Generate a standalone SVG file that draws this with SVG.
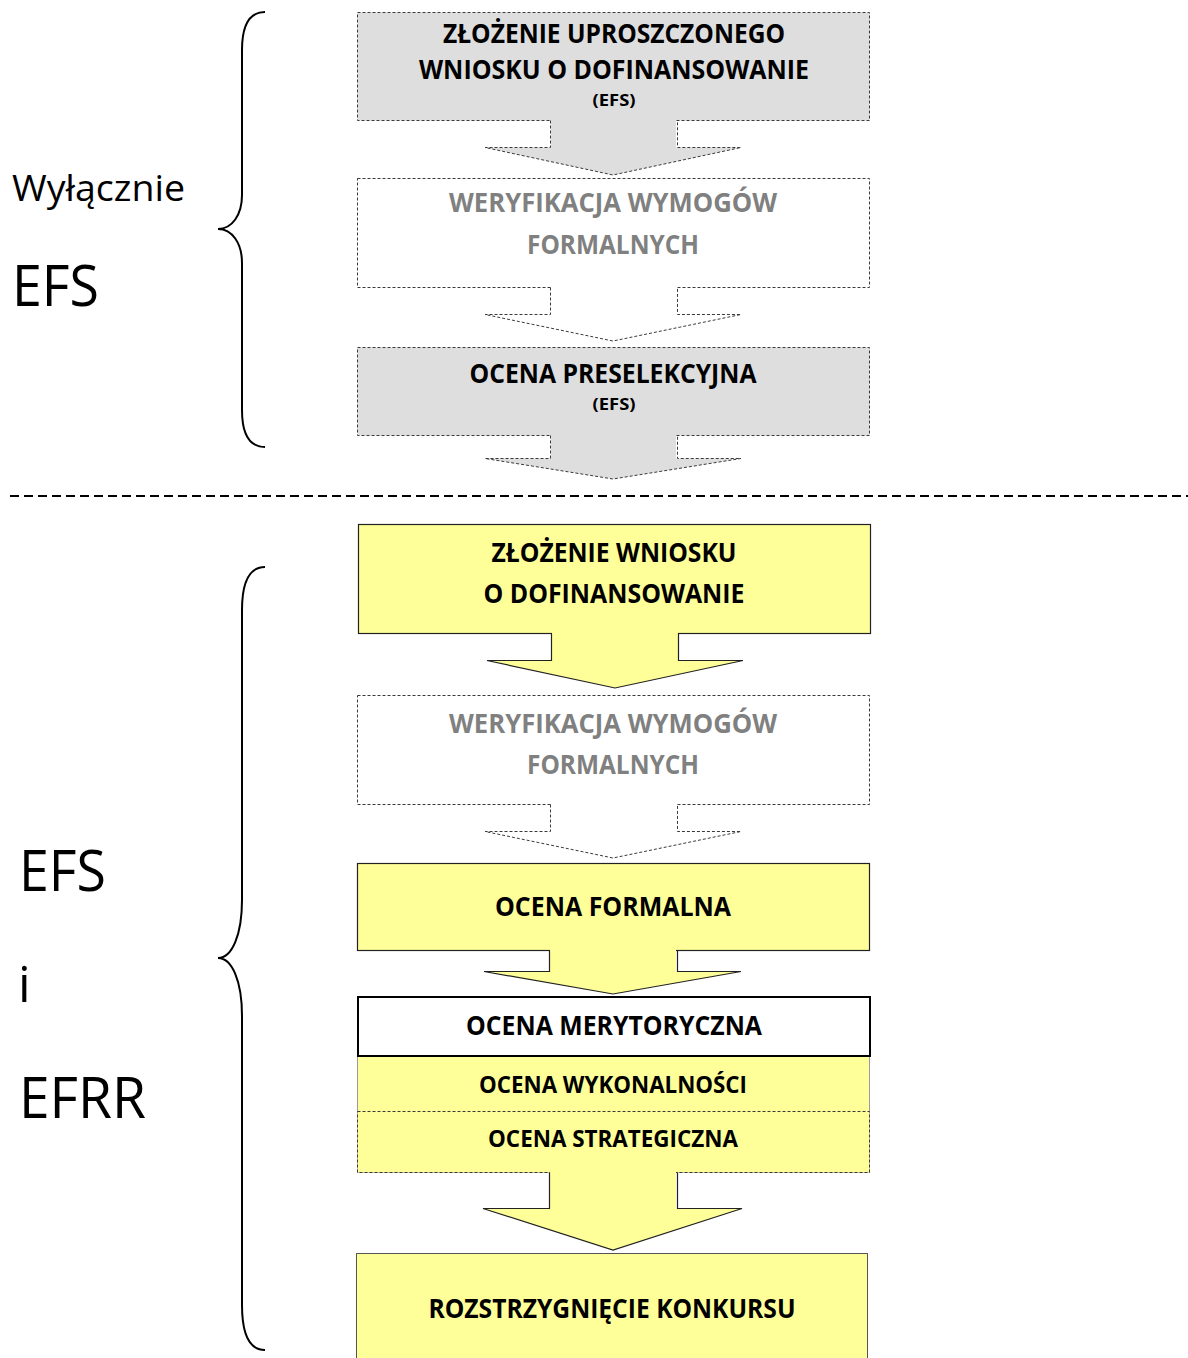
<svg xmlns="http://www.w3.org/2000/svg" width="1188" height="1358" viewBox="0 0 1188 1358">
<style>
.t{font-family:"Open Sans","Lato","Liberation Sans",sans-serif;font-weight:bold;font-size:26px;fill:#000;text-anchor:middle}
.s{font-size:16px}
.g{fill:#808080}
.m{font-size:23px}
.lbl{font-family:"Open Sans","Liberation Sans",sans-serif;fill:#000}
.dash{stroke:#3a3a3a;stroke-width:1;stroke-dasharray:3 2}
.solid{stroke:#222;stroke-width:1.2}
.gray{fill:#dedede}
.wh{fill:#fff}
.ye{fill:#ffff99}
.brace{fill:none;stroke:#000;stroke-width:2}
</style>

<g id="braces">
<path class="brace" d="M265,12 C250,12 242,24 242,50 L242,195 C242,215 232,229 218,229 C232,229 242,243 242,263 L242,410 C242,436 250,447 265,447"/>
<path class="brace" d="M265,567 C250,567 242,580 242,610 L242,900 C242,935 232,958 218,958 C232,958 242,981 242,1016 L242,1305 C242,1335 250,1350 265,1350"/>
</g>

<g id="labels">
<text class="lbl" x="12" y="201" font-size="37" textLength="173" lengthAdjust="spacingAndGlyphs">Wyłącznie</text>
<text class="lbl" x="12" y="306" font-size="56" textLength="87" lengthAdjust="spacingAndGlyphs">EFS</text>
<text class="lbl" x="19" y="891" font-size="56" textLength="87" lengthAdjust="spacingAndGlyphs">EFS</text>
<text class="lbl" x="18" y="1002" font-size="50">i</text>
<text class="lbl" x="19" y="1118" font-size="56" textLength="127" lengthAdjust="spacingAndGlyphs">EFRR</text>
</g>

<line id="separator" x1="10" y1="496" x2="1188" y2="496" stroke="#000" stroke-width="2" stroke-dasharray="9 5"/>

<g id="node-zlozenie-uproszczonego">
<rect class="gray dash" x="357.5" y="12.5" width="512" height="108"/>
<text class="t" x="614" y="43" textLength="342" lengthAdjust="spacingAndGlyphs">ZŁOŻENIE UPROSZCZONEGO</text>
<text class="t" x="614" y="79" textLength="390" lengthAdjust="spacingAndGlyphs">WNIOSKU O DOFINANSOWANIE</text>
<text class="t s" x="614" y="106" textLength="43" lengthAdjust="spacingAndGlyphs">(EFS)</text>
</g>

<g id="node-weryfikacja-1">
<rect class="wh dash" x="357.5" y="178.5" width="512" height="109"/>
<text class="t g" x="613" y="212" textLength="328" lengthAdjust="spacingAndGlyphs">WERYFIKACJA WYMOGÓW</text>
<text class="t g" x="613" y="254" textLength="172" lengthAdjust="spacingAndGlyphs">FORMALNYCH</text>
</g>

<g id="node-preselekcja">
<rect class="gray dash" x="357.5" y="347.5" width="512" height="88"/>
<text class="t" x="613" y="383" textLength="287" lengthAdjust="spacingAndGlyphs">OCENA PRESELEKCYJNA</text>
<text class="t s" x="614" y="410" textLength="43" lengthAdjust="spacingAndGlyphs">(EFS)</text>
</g>

<g id="node-zlozenie-wniosku">
<rect class="ye solid" x="358.5" y="524.5" width="512" height="109"/>
<text class="t" x="614" y="562" textLength="245" lengthAdjust="spacingAndGlyphs">ZŁOŻENIE WNIOSKU</text>
<text class="t" x="614" y="603" textLength="261" lengthAdjust="spacingAndGlyphs">O DOFINANSOWANIE</text>
</g>

<g id="node-weryfikacja-2">
<rect class="wh dash" x="357.5" y="695.5" width="512" height="109"/>
<text class="t g" x="613" y="733" textLength="328" lengthAdjust="spacingAndGlyphs">WERYFIKACJA WYMOGÓW</text>
<text class="t g" x="613" y="774" textLength="172" lengthAdjust="spacingAndGlyphs">FORMALNYCH</text>
</g>

<g id="node-ocena-formalna">
<rect class="ye solid" x="357.5" y="863.5" width="512" height="87"/>
<text class="t" x="613" y="916" textLength="236" lengthAdjust="spacingAndGlyphs">OCENA FORMALNA</text>
</g>

<g id="node-ocena-merytoryczna">
<rect class="ye" x="357.5" y="1056.5" width="512" height="116" stroke="#9a9a9a" stroke-width="1"/>
<rect fill="#fff" stroke="#000" stroke-width="2" x="358" y="997" width="512" height="59"/>
<text class="t" x="614" y="1035" textLength="296" lengthAdjust="spacingAndGlyphs">OCENA MERYTORYCZNA</text>
<text class="t m" x="613" y="1093" textLength="268" lengthAdjust="spacingAndGlyphs">OCENA WYKONALNOŚCI</text>
<rect class="ye dash" x="357.5" y="1111.5" width="512" height="61"/>
<text class="t m" x="613" y="1147" textLength="250" lengthAdjust="spacingAndGlyphs">OCENA STRATEGICZNA</text>
</g>

<g id="node-rozstrzygniecie">
<rect class="ye" x="356.5" y="1253.5" width="511" height="120" stroke="#555" stroke-width="1"/>
<text class="t" x="612" y="1318" textLength="367" lengthAdjust="spacingAndGlyphs">ROZSTRZYGNIĘCIE KONKURSU</text>
</g>

<g id="connectors">
<polygon class="gray" points="551,119 676,119 676,147.5 741,147.5 613,175 485,147.5 551,147.5"/>
<polyline class="dash" fill="none" points="550.5,120.5 550.5,147.5 485,147.5 613,175 741,147.5 677.5,147.5 677.5,120.5"/>

<polygon class="wh" points="551,286 676,286 676,314.5 741,314.5 613,341 485,314.5 551,314.5"/>
<polyline class="dash" fill="none" points="550.5,287.5 550.5,314.5 485,314.5 613,341 741,314.5 677.5,314.5 677.5,287.5"/>

<polygon class="gray" points="551,434 676,434 676,458.5 741,458.5 613,479 485,458.5 551,458.5"/>
<polyline class="dash" fill="none" points="550.5,435.5 550.5,458.5 485,458.5 613,479 741,458.5 677.5,458.5 677.5,435.5"/>

<polygon class="ye" points="552,632 678,632 678,660.5 743,660.5 615,688 487,660.5 552,660.5"/>
<polyline class="solid" fill="none" points="551.5,633.5 551.5,660.5 487,660.5 615,688 743,660.5 678.5,660.5 678.5,633.5"/>

<polygon class="wh" points="551,803 676,803 676,831.5 741,831.5 613,858 485,831.5 551,831.5"/>
<polyline class="dash" fill="none" points="550.5,804.5 550.5,831.5 485,831.5 613,858 741,831.5 677.5,831.5 677.5,804.5"/>

<polygon class="ye" points="550,949 676,949 676,971.5 741,971.5 613,994 484,971.5 550,971.5"/>
<polyline class="solid" fill="none" points="549.5,950.5 549.5,971.5 484,971.5 613,994 741,971.5 677.5,971.5 677.5,950.5"/>

<polygon class="ye" points="550,1171 676,1171 676,1208.5 742,1208.5 613,1250 483,1208.5 550,1208.5"/>
<polyline class="solid" fill="none" points="549.5,1172.5 549.5,1208.5 483,1208.5 613,1250 742,1208.5 677.5,1208.5 677.5,1172.5"/>
</g>
</svg>
